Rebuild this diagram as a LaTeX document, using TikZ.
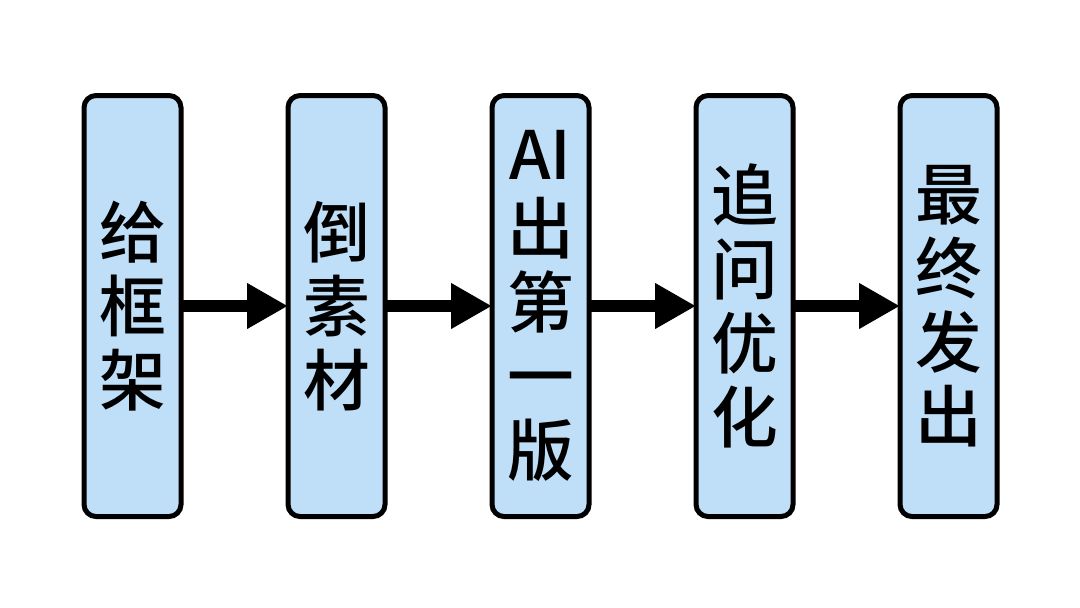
\documentclass[tikz,border=0pt]{standalone}
\usepackage{fontspec}
\newfontfamily\cjk{Noto Sans CJK SC}[UprightFont={* Medium}]
\usetikzlibrary{arrows.meta,positioning}
\definecolor{boxfill}{HTML}{BFDEF7}

\begin{document}
\begin{tikzpicture}[
        box/.style={draw=black,line width=0.1cm,rounded corners=0.24cm,fill=boxfill,outer sep=0pt,
          minimum width=1.94cm,minimum height=8.42cm,align=center,inner sep=0pt,
          font=\cjk\fontsize{38}{42}\selectfont},
        arr/.style={-{Triangle[length=0.82cm,width=0.86cm]},black,line width=0.24cm}]
        \useasboundingbox[fill=white](0,0) rectangle (21.6,-12.14);
        \node[box](kuangjia) at (2.65,-6.12){给\\框\\架};
        \node[box,right=2.14cm of kuangjia](sucai){倒\\素\\材};
        \node[box,right=2.14cm of sucai](diyiban){AI\\出\\第\\一\\版};
        \node[box,right=2.14cm of diyiban](youhua){追\\问\\优\\化};
        \node[box,right=2.14cm of youhua](fachu){最\\终\\发\\出};
        \draw[arr](kuangjia)--(sucai);\draw[arr](sucai)--(diyiban);\draw[arr](diyiban)--(youhua);\draw[arr](youhua)--(fachu);
      \end{tikzpicture}
\end{document}
